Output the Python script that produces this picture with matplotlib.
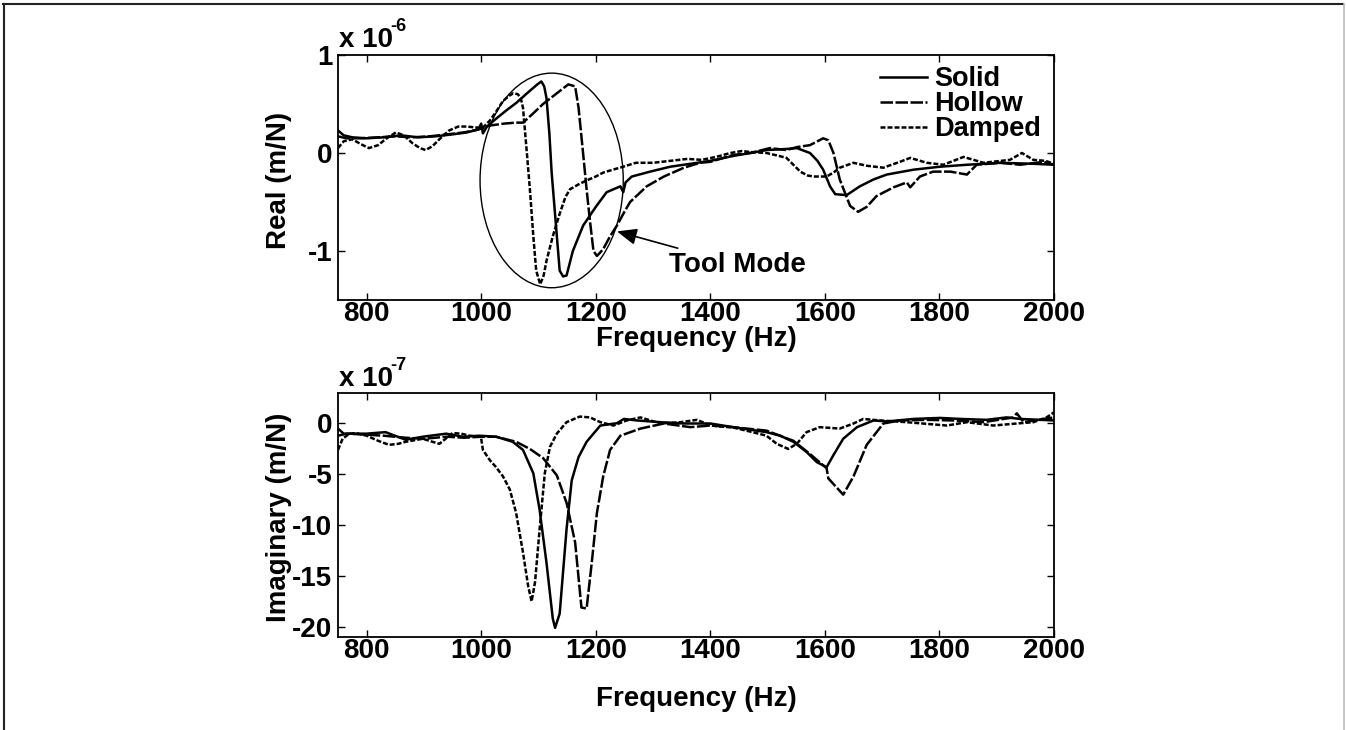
import matplotlib
matplotlib.use("Agg")
import matplotlib.pyplot as plt
from matplotlib.patches import Ellipse
from matplotlib.lines import Line2D

plt.rcParams['font.family'] = ['Liberation Sans', 'DejaVu Sans']
plt.rcParams['font.weight'] = 'bold'
plt.rcParams['axes.labelweight'] = 'bold'
plt.rcParams['font.size'] = 20

# ---- Real part (x 1e-6 m/N) ----
real_solid_f = [750, 760, 775, 800, 830, 860, 890, 920, 950, 975, 995, 1000, 1003, 1010, 1026, 1045,
                1061, 1084, 1098, 1105, 1110, 1114, 1119, 1123, 1130, 1137, 1143, 1149, 1160, 1178,
                1200, 1219, 1243, 1248, 1252, 1263, 1295, 1330, 1377, 1400, 1440, 1470, 1498, 1530,
                1551, 1574, 1587, 1597, 1609, 1618, 1638, 1661, 1685, 1708, 1755, 1801, 1848, 1906,
                1964, 2000]
real_solid = [0.23, 0.18, 0.16, 0.15, 0.16, 0.18, 0.16, 0.17, 0.19, 0.21, 0.24, 0.30, 0.20, 0.27, 0.35, 0.44,
              0.51, 0.63, 0.70, 0.73, 0.68, 0.56, 0.20, -0.20, -0.70, -1.20, -1.26, -1.25, -1.00, -0.74,
              -0.55, -0.40, -0.34, -0.40, -0.30, -0.24, -0.19, -0.14, -0.10, -0.08, -0.03, 0.0, 0.03, 0.04,
              0.05, 0.0, -0.08, -0.17, -0.34, -0.42, -0.43, -0.34, -0.27, -0.22, -0.17, -0.14, -0.12, -0.10,
              -0.11, -0.12]

real_hollow_f = [750, 765, 790, 820, 850, 880, 910, 940, 970, 995, 1015, 1040, 1061, 1073, 1090, 1108,
                 1130, 1152, 1164, 1170, 1177, 1184, 1190, 1196, 1202, 1207, 1213, 1225, 1237, 1250,
                 1260, 1289, 1319, 1354, 1382, 1400, 1440, 1470, 1504, 1533, 1551, 1574, 1597, 1606,
                 1615, 1626, 1644, 1658, 1673, 1690, 1720, 1743, 1749, 1766, 1789, 1819, 1848, 1865,
                 1906, 1941, 1982, 2000]
real_hollow = [0.17, 0.15, 0.15, 0.16, 0.17, 0.16, 0.17, 0.19, 0.21, 0.24, 0.28, 0.30, 0.31, 0.31, 0.40, 0.50,
               0.60, 0.70, 0.68, 0.46, 0.05, -0.37, -0.70, -1.00, -1.05, -1.02, -0.98, -0.85, -0.74, -0.60,
               -0.50, -0.34, -0.24, -0.15, -0.10, -0.09, -0.02, 0.0, 0.05, 0.03, 0.06, 0.08, 0.15, 0.13,
               0.0, -0.27, -0.54, -0.60, -0.55, -0.44, -0.35, -0.30, -0.35, -0.24, -0.19, -0.19, -0.22, -0.12,
               -0.10, -0.12, -0.09, -0.12]

real_damped_f = [750, 760, 775, 790, 804, 820, 835, 851, 865, 880, 893, 903, 915, 927, 944, 960, 975, 991,
                 1003, 1015, 1027, 1038, 1048, 1056, 1064, 1069, 1073, 1079, 1085, 1091, 1096, 1103, 1109,
                 1114, 1125, 1137, 1147, 1155, 1170, 1184, 1200, 1213, 1230, 1248, 1270, 1300, 1330, 1360,
                 1385, 1410, 1435, 1455, 1470, 1498, 1520, 1533, 1545, 1557, 1570, 1580, 1603, 1615, 1626,
                 1650, 1673, 1702, 1731, 1749, 1778, 1807, 1842, 1877, 1923, 1944, 1964, 1985, 2000]
real_damped = [0.05, 0.12, 0.14, 0.09, 0.05, 0.08, 0.15, 0.21, 0.18, 0.10, 0.05, 0.03, 0.07, 0.14, 0.23, 0.27, 0.27, 0.26,
               0.26, 0.33, 0.43, 0.53, 0.58, 0.61, 0.60, 0.56, 0.46, 0.05, -0.37, -0.85, -1.20, -1.34, -1.25,
               -1.10, -0.85, -0.62, -0.45, -0.37, -0.32, -0.28, -0.24, -0.20, -0.17, -0.14, -0.10, -0.10, -0.08, -0.06,
               -0.07, -0.04, 0.0, 0.02, 0.01, 0.0, -0.03, -0.05, -0.12, -0.19, -0.23, -0.24, -0.24, -0.20, -0.15,
               -0.10, -0.13, -0.15, -0.09, -0.05, -0.10, -0.12, -0.04, -0.10, -0.07, 0.0, -0.07, -0.08, -0.11]

# ---- Imaginary part (x 1e-7 m/N) ----
imag_solid_f = [750, 760, 781, 800, 833, 868, 898, 939, 968, 997, 1026, 1055, 1073, 1091, 1102, 1114, 1125,
                1129, 1137, 1149, 1158, 1170, 1184, 1208, 1237, 1249, 1272, 1313, 1354, 1400, 1440, 1498,
                1522, 1545, 1568, 1586, 1603, 1615, 1632, 1656, 1685, 1708, 1755, 1801, 1836, 1882, 1917,
                1941, 2000]
imag_solid = [-0.5, -1.0, -1.0, -1.0, -0.85, -1.6, -1.3, -1.0, -1.3, -1.2, -1.3, -1.8, -2.6, -4.9, -8.5, -13.7, -19.2,
              -20.1, -18.7, -10.4, -5.6, -3.3, -1.8, -0.2, 0.03, 0.45, 0.3, 0.13, 0.0, 0.0, -0.36, -0.85,
              -1.2, -1.8, -2.8, -3.8, -4.3, -3.1, -1.5, -0.36, 0.3, 0.2, 0.45, 0.55, 0.45, 0.36, 0.6,
              0.45, 0.3]

imag_hollow_f = [750, 765, 800, 830, 868, 900, 940, 970, 1000, 1026, 1061, 1085, 1108, 1132, 1149, 1164, 1175,
                 1184, 1193, 1202, 1213, 1225, 1243, 1278, 1319, 1365, 1400, 1440, 1498, 1545, 1574, 1603,
                 1606, 1632, 1650, 1673, 1702, 1731, 1778, 1824, 1877, 1929, 1935, 1947, 2000]
imag_hollow = [-1.2, -1.0, -1.1, -1.2, -1.4, -1.5, -1.3, -1.4, -1.3, -1.3, -1.8, -2.5, -3.4, -5.1, -7.8, -11.7, -18.1,
               -18.2, -13.7, -8.8, -5.2, -2.6, -1.2, -0.5, 0.0, -0.36, -0.2, -0.36, -0.7, -1.7, -3.0, -4.4,
               -5.4, -7.0, -5.2, -2.1, 0.0, 0.3, 0.36, 0.3, 0.13, 0.6, 1.0, 0.13, 0.6]

imag_damped_f = [750, 758, 770, 781, 800, 820, 839, 855, 868, 898, 915, 927, 940, 950, 965, 980, 997, 1000,
                 1003, 1015, 1026, 1038, 1050, 1061, 1073, 1082, 1088, 1094, 1102, 1111, 1120, 1132, 1149,
                 1172, 1190, 1208, 1231, 1254, 1278, 1313, 1348, 1377, 1400, 1440, 1470, 1498, 1516, 1536,
                 1551, 1568, 1591, 1626, 1650, 1667, 1696, 1743, 1813, 1848, 1894, 1935, 1964, 1987, 2000]
imag_damped = [-2.6, -1.5, -1.0, -0.94, -1.2, -1.7, -2.1, -2.0, -1.8, -1.5, -1.8, -2.0, -1.4, -0.94, -1.0, -1.2, -1.3, -1.5,
               -2.6, -3.6, -4.3, -5.2, -6.5, -8.8, -12.7, -16.0, -17.5, -15.6, -10.4, -4.9, -2.3, -1.0, 0.13,
               0.68, 0.6, 0.13, -0.2, 0.3, 0.6, 0.0, 0.13, 0.36, -0.2, -0.4, -0.8, -1.2, -2.0, -2.5,
               -2.0, -0.85, -0.36, -0.5, 0.0, 0.45, 0.3, 0.13, -0.2, 0.13, -0.2, 0.0, 0.13, 0.6, 1.1]

series_names = ['Solid', 'Hollow', 'Damped']
line_styles = ['-', (0, (5, 1.0)), (0, (2, 0.8))]

x_ticks = [800, 1000, 1200, 1400, 1600, 1800, 2000]
real_ticks = [-1, 0, 1]
imag_ticks = [-20, -15, -10, -5, 0]

W, H = 1346, 730
fig = plt.figure(figsize=(W / 100, H / 100), dpi=100)


def fx(px):
    return px / W


def fy(py):
    return 1 - py / H


ax1 = fig.add_axes([fx(338), fy(300), fx(1054) - fx(338), fy(55) - fy(300)])
ax2 = fig.add_axes([fx(338), fy(637), fx(1054) - fx(338), fy(393) - fy(637)])

real_data = [(real_solid_f, real_solid), (real_hollow_f, real_hollow), (real_damped_f, real_damped)]
imag_data = [(imag_solid_f, imag_solid), (imag_hollow_f, imag_hollow), (imag_damped_f, imag_damped)]

for (f, v), ls, name in zip(real_data, line_styles, series_names):
    ax1.plot(f, v, color='black', lw=1.8, linestyle=ls, label=name)
for (f, v), ls in zip(imag_data, line_styles):
    ax2.plot(f, v, color='black', lw=1.8, linestyle=ls)

for ax in (ax1, ax2):
    ax.set_xlim(750, 2000)
    ax.set_xticks(x_ticks)
    ax.tick_params(direction='in', top=True, right=True, length=5, width=1, pad=1)
    for s in ax.spines.values():
        s.set_linewidth(1.3)
    ax.set_xlabel('Frequency (Hz)')

ax1.xaxis.set_label_coords(0.5, -0.108)
ax2.xaxis.set_label_coords(0.5, -0.2)

ax1.set_ylim(-1.5, 1)
ax1.set_yticks(real_ticks)
ax1.set_yticklabels(['-1', '0', '1'])
ax2.set_ylim(-21, 3)
ax2.set_yticks(imag_ticks)
ax2.set_yticklabels([str(t) for t in imag_ticks])
for ax in (ax1, ax2):
    ax.tick_params(axis='y', pad=4)

ax1.set_ylabel('Real (m/N)')
ax2.set_ylabel('Imaginary (m/N)')
ax1.yaxis.set_label_coords(-0.064, 0.49)
ax2.yaxis.set_label_coords(-0.064, 0.49)

# scale factors above each axes
fig.text(fx(339), fy(47), 'x 10', ha='left', va='baseline')
fig.text(fx(390), fy(31), '-6', ha='left', va='baseline', fontsize=13)
fig.text(fx(339), fy(386), 'x 10', ha='left', va='baseline')
fig.text(fx(390), fy(370), '-7', ha='left', va='baseline', fontsize=13)

# circled tool mode region
ax1.add_patch(Ellipse((1123, -0.28), 250, 2.19, fill=False, lw=1.0, color='black'))
ax1.annotate('Tool Mode', xy=(1237, -0.80), xytext=(1328, -1.14), ha='left', va='center',
             arrowprops=dict(arrowstyle='-|>,head_length=0.6,head_width=0.25', color='black', lw=1.2,
                             shrinkA=2, shrinkB=0))

ax1.legend(loc='upper left', bbox_to_anchor=((880 - 338) / 716, (300 - 66) / 245), frameon=False,
           fontsize=19.5, handlelength=1.75, handletextpad=0.25, labelspacing=-0.03,
           borderpad=0, borderaxespad=0)

# page frame
fig.add_artist(Line2D([fx(3), fx(1343)], [fy(4), fy(4)], color='#222222', lw=1.5))
fig.add_artist(Line2D([fx(3.5), fx(3.5)], [fy(4), fy(730)], color='#222222', lw=1.5))
fig.add_artist(Line2D([fx(1344), fx(1344)], [fy(4), fy(730)], color='#bbbbbb', lw=1.2))

fig.savefig('out.png', dpi=100)
